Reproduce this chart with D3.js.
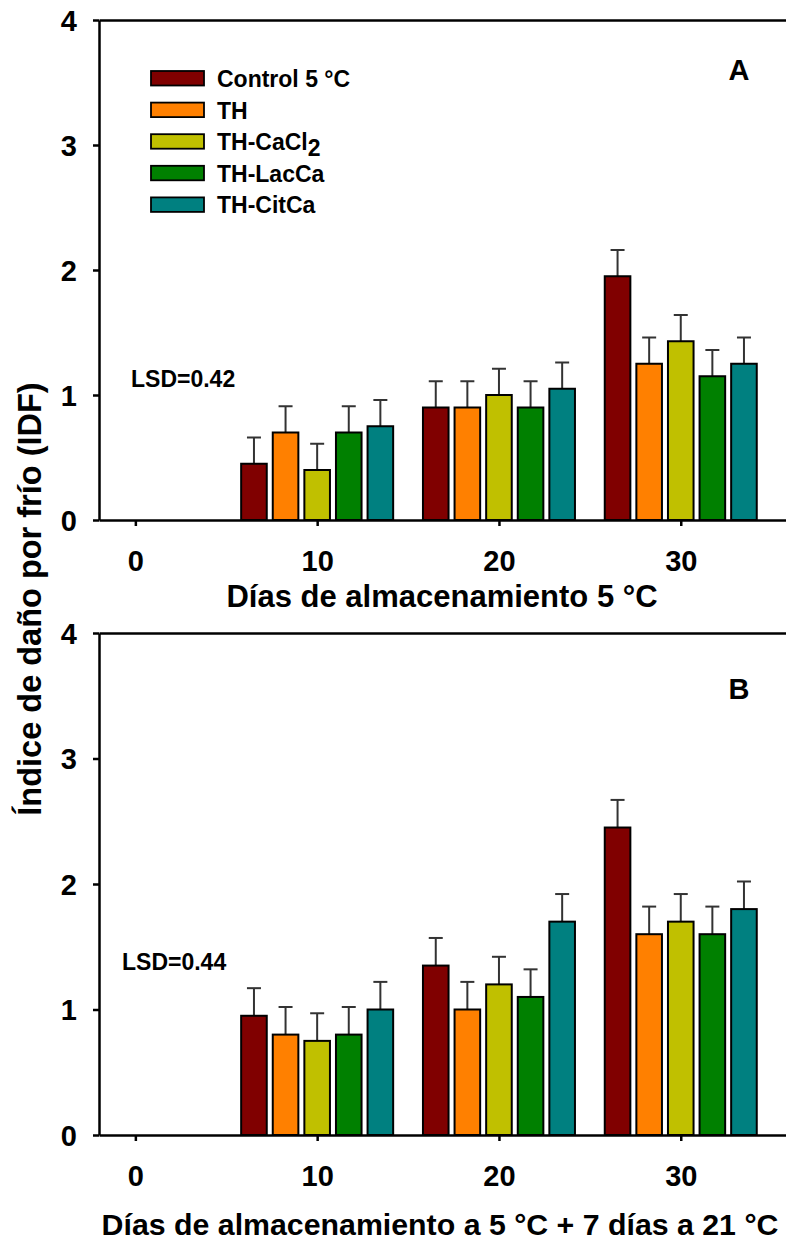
<!DOCTYPE html>
<html>
<head>
<meta charset="utf-8">
<script src="https://cdn.jsdelivr.net/npm/d3@7"></script>
<style>
  body { margin: 0; background: #fff; }
  svg { display: block; }
  text { font-family: "Liberation Sans", Arial, sans-serif; font-weight: bold; fill: #000; }
</style>
</head>
<body>
<svg id="canvas" width="786" height="1242"></svg>
<script>
let days = [10, 20, 30]
let series = ['Control 5 °C', 'TH', 'TH-CaCl2', 'TH-LacCa', 'TH-CitCa']
let colors = ['#800000', '#ff8000', '#c0c000', '#008000', '#008080']
let xTicks = [0, 10, 20, 30]
let yTicks = [0, 1, 2, 3, 4]

// panel A: days at 5 °C (rows = series, cols = days)
let valuesA = [
    [0.45, 0.90, 1.95],
    [0.70, 0.90, 1.25],
    [0.40, 1.00, 1.43],
    [0.70, 0.90, 1.15],
    [0.75, 1.05, 1.25]
]
let lsdA = 0.42

// panel B: 5 °C + 7 days at 21 °C
let valuesB = [
    [0.95, 1.35, 2.45],
    [0.80, 1.00, 1.60],
    [0.75, 1.20, 1.70],
    [0.80, 1.10, 1.60],
    [1.00, 1.70, 1.80]
]
let lsdB = 0.44

let canvas = d3.select('#canvas')

let x = d3.scaleLinear().domain([-2, 36]).range([99, 99 + 38 * 18.18])

let drawPanel = (values, lsd, top, bottom, letter, letterY, title, titleX, titleY, titleSize) => {
    let y = d3.scaleLinear().domain([0, 4]).range([bottom, top])
    let g = canvas.append('g')

    let rows = []
    values.forEach((row, i) => {
        row.forEach((v, j) => {
            rows.push({ s: i, day: days[j], v: v })
        })
    })

    let band = (day) => d3.scaleBand()
        .domain(d3.range(series.length))
        .range([x(day) - 76, x(day) + 76])
        .paddingInner(0.19)

    // error bars (half LSD, upward only)
    let err = lsd / 2
    let eb = g.selectAll('g.err').data(rows).enter().append('g')
        .attr('stroke', '#333').attr('stroke-width', 2)
    eb.append('line')
        .attr('x1', d => band(d.day)(d.s) + band(d.day).bandwidth() / 2)
        .attr('x2', d => band(d.day)(d.s) + band(d.day).bandwidth() / 2)
        .attr('y1', d => y(d.v))
        .attr('y2', d => y(d.v + err))
    eb.append('line')
        .attr('x1', d => band(d.day)(d.s) + band(d.day).bandwidth() / 2 - 7)
        .attr('x2', d => band(d.day)(d.s) + band(d.day).bandwidth() / 2 + 7)
        .attr('y1', d => y(d.v + err))
        .attr('y2', d => y(d.v + err))

    g.selectAll('rect.bar').data(rows).enter().append('rect')
        .attr('class', 'bar')
        .attr('x', d => band(d.day)(d.s))
        .attr('width', d => band(d.day).bandwidth())
        .attr('y', d => y(d.v))
        .attr('height', d => y(0) - y(d.v))
        .attr('fill', d => colors[d.s])
        .attr('stroke', '#000')
        .attr('stroke-width', 2)

    // axes
    let yAxis = g.append('g')
        .attr('transform', 'translate(' + x(-2) + ',0)')
        .call(d3.axisLeft(y).tickValues(yTicks).tickFormat(d3.format('d')).tickSize(6).tickSizeOuter(0).tickPadding(16))
    let xAxis = g.append('g')
        .attr('transform', 'translate(0,' + bottom + ')')
        .call(d3.axisBottom(x).tickValues(xTicks).tickSize(6).tickSizeOuter(0).tickPadding(24))
    let topAxis = g.append('g')
        .attr('transform', 'translate(0,' + top + ')')
        .call(d3.axisTop(x).tickValues([]).tickSizeOuter(0))
    ;[yAxis, xAxis, topAxis].forEach(a => {
        a.select('.domain').attr('stroke-width', 2.5)
        a.selectAll('.tick line').attr('stroke-width', 2.5)
        a.selectAll('text').attr('font-size', 29).attr('font-family', '"Liberation Sans", Arial, sans-serif').attr('font-weight', 'bold')
    })
    yAxis.selectAll('.tick text').attr('dy', '0.36em')

    g.append('text')
        .attr('x', 739).attr('y', letterY)
        .attr('text-anchor', 'middle')
        .attr('font-size', 29)
        .text(letter)

    g.append('text')
        .attr('x', titleX).attr('y', titleY)
        .attr('text-anchor', 'middle')
        .attr('font-size', titleSize)
        .text(title)

    return y
}

let yA = drawPanel(valuesA, lsdA, 20, 520, 'A', 80, 'Días de almacenamiento 5 °C', 442, 607, 31)
let yB = drawPanel(valuesB, lsdB, 633, 1135, 'B', 699, 'Días de almacenamiento a 5 °C + 7 días a 21 °C', 440, 1235, 30.3)

canvas.append('text').attr('x', 131).attr('y', 387).attr('font-size', 23).text('LSD=' + lsdA)
canvas.append('text').attr('x', 122).attr('y', 970).attr('font-size', 23).text('LSD=' + lsdB)

// y title spanning both panels
canvas.append('text')
    .attr('transform', 'translate(41,599) rotate(-90)')
    .attr('text-anchor', 'middle')
    .attr('font-size', 32.5)
    .text('Índice de daño por frío (IDF)')

// legend
let legend = canvas.append('g')
series.forEach((s, i) => {
    let ly = 71 + i * 31.6
    legend.append('rect')
        .attr('x', 151).attr('y', ly)
        .attr('width', 53).attr('height', 14.5)
        .attr('fill', colors[i])
        .attr('stroke', '#000').attr('stroke-width', 1.8)
    let t = legend.append('text')
        .attr('x', 217).attr('y', ly + 16)
        .attr('font-size', 23)
    if (s === 'TH-CaCl2') {
        t.text('TH-CaCl')
        t.append('tspan').attr('dy', 6).text('2')
    } else {
        t.text(s)
    }
})
</script>
</body>
</html>
